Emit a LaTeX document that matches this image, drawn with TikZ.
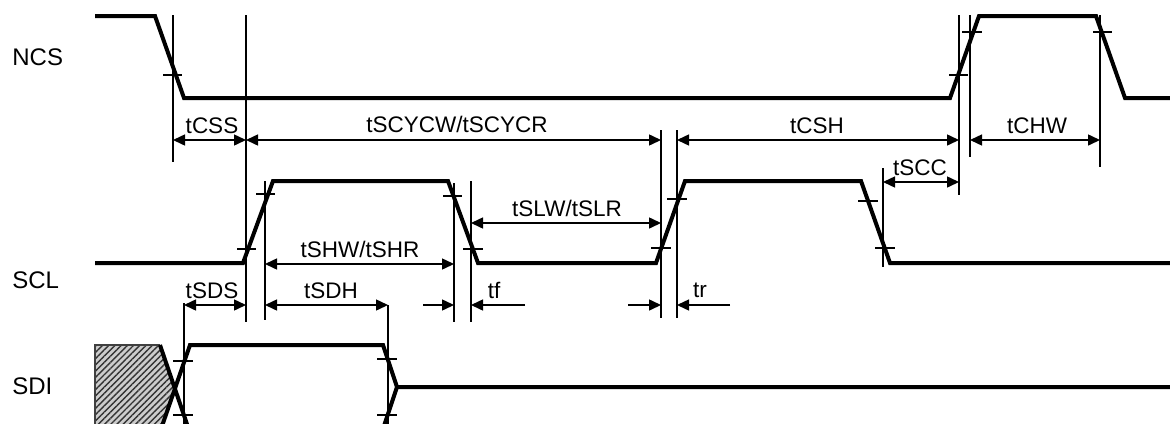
\documentclass[tikz,border=0pt]{standalone}
\usepackage{fontspec}
\setmainfont{Liberation Sans}
\usetikzlibrary{arrows.meta,patterns.meta}
\begin{document}
\begin{tikzpicture}[x=0.5pt,y=-0.5pt,
  sig/.style={line width=2pt, line join=miter},
  refl/.style={line width=0.75pt},
  tickl/.style={line width=0.75pt},
  dimarr/.style={line width=0.75pt, {Triangle[length=6pt,width=5.5pt]}-{Triangle[length=6pt,width=5.5pt]}},
  onearr/.style={line width=0.75pt, -{Triangle[length=6pt,width=5.5pt]}},
  lbl/.style={font=\fontsize{11.25}{13}\selectfont, inner sep=0pt, anchor=base},
  signame/.style={font=\fontsize{12}{14}\selectfont, inner sep=0pt, anchor=base west}]
\useasboundingbox (0,0) rectangle (1170,423);
\begin{scope}
\clip (0,0) rectangle (1170,423);

% signal names
\node[signame] (ncs) at (12,65) {NCS};
\node[signame] (scl) at (12,288) {SCL};
\node[signame] (sdi) at (12,394) {SDI};

% NCS waveform
\draw[sig] (95,16) -- (155,16) -- (184,98) -- (950,98) -- (979,16) -- (1096,16) -- (1125,98) -- (1170,98);
% SCL waveform
\draw[sig] (95,263) -- (243,263) -- (273,181) -- (448,181) -- (478,263) -- (656,263) -- (685,181) -- (861,181) -- (890,263) -- (1170,263);
% SDI hatched region
\fill[gray!40] (95,345) -- (160,345) -- (175,385) -- (161,429) -- (95,429) -- cycle;
\fill[pattern={Lines[angle=45,distance=2.2pt,line width=0.7pt]}, pattern color=gray!40!black]
  (95,345) -- (160,345) -- (175,385) -- (161,429) -- (95,429) -- cycle;
\draw[gray!50!black, line width=0.8pt] (95,429) -- (95,345) -- (160,345);
% SDI waveform
\draw[sig] (160,345) -- (189,430);
\draw[sig] (161,429) -- (190,345) -- (383,345) -- (397,387) -- (1170,387);
\draw[sig] (397,387) -- (383,429);

% reference lines
\coordinate (v1t) at (173,15);  \coordinate (v1b) at (173,162);
\coordinate (v2t) at (246,15);  \coordinate (v2b) at (246,322);
\coordinate (v3t) at (265,181); \coordinate (v3b) at (265,320);
\coordinate (v4t) at (454,183); \coordinate (v4b) at (454,322);
\coordinate (v5t) at (471,181); \coordinate (v5b) at (471,322);
\coordinate (v6t) at (661,130); \coordinate (v6b) at (661,318);
\coordinate (v7t) at (677,130); \coordinate (v7b) at (677,318);
\coordinate (v8t) at (883,168); \coordinate (v8b) at (883,267);
\coordinate (v9t) at (959,15);  \coordinate (v9b) at (959,195);
\coordinate (v10t) at (970,15); \coordinate (v10b) at (970,157);
\coordinate (v11t) at (1100,15);\coordinate (v11b) at (1100,167);
\coordinate (v12t) at (388,305);\coordinate (v12b) at (388,430);
\coordinate (v13t) at (184,303);\coordinate (v13b) at (184,430);
\foreach \v in {1,...,13} {\draw[refl] (v\v t) -- (v\v b);}

% ticks
\foreach \xa/\xb/\yy in {163/182/75, 949/968/75, 962/982/32, 1093/1112/32,
  237/256/249, 256/275/194, 443/462/196, 463/483/249, 651/671/248, 667/687/199,
  858/878/201, 875/895/248,
  173/193/361, 173/193/415, 377/397/359, 377/397/415}
  {\draw[tickl] (\xa,\yy) -- (\xb,\yy);}

% dimension arrows
\coordinate (a1l) at (173,140); \coordinate (a1r) at (246,140);
\coordinate (a2l) at (246,140); \coordinate (a2r) at (661,140);
\coordinate (a3l) at (677,140); \coordinate (a3r) at (959,140);
\coordinate (a4l) at (970,140); \coordinate (a4r) at (1100,140);
\coordinate (a5l) at (883,182); \coordinate (a5r) at (959,182);
\coordinate (a6l) at (471,223); \coordinate (a6r) at (661,223);
\coordinate (a7l) at (265,264); \coordinate (a7r) at (454,264);
\coordinate (a8l) at (184,305); \coordinate (a8r) at (246,305);
\coordinate (a9l) at (265,305); \coordinate (a9r) at (388,305);
\foreach \a in {1,...,9} {\draw[dimarr] (a\a l) -- (a\a r);}

\coordinate (tfa) at (423,305); \coordinate (tfb) at (454,305);
\coordinate (tfc) at (525,305); \coordinate (tfd) at (471,305);
\coordinate (tra) at (628,305); \coordinate (trb) at (661,305);
\coordinate (trc) at (730,305); \coordinate (trd) at (677,305);
\draw[onearr] (tfa) -- (tfb);
\draw[onearr] (tfc) -- (tfd);
\draw[onearr] (tra) -- (trb);
\draw[onearr] (trc) -- (trd);

% labels
\node[lbl] (lcss) at (212,133) {tCSS};
\node[lbl] (lscyc) at (457,132) {tSCYCW/tSCYCR};
\node[lbl] (lcsh) at (817,133) {tCSH};
\node[lbl] (lchw) at (1037,133) {tCHW};
\node[lbl] (lscc) at (920,175) {tSCC};
\node[lbl] (lslw) at (567,216) {tSLW/tSLR};
\node[lbl] (lshw) at (360,257) {tSHW/tSHR};
\node[lbl] (lsds) at (212,298) {tSDS};
\node[lbl] (lsdh) at (331,298) {tSDH};
\node[lbl] (ltf) at (494,298) {tf};
\node[lbl] (ltr) at (700,297) {tr};
\end{scope}
\end{tikzpicture}
\end{document}
